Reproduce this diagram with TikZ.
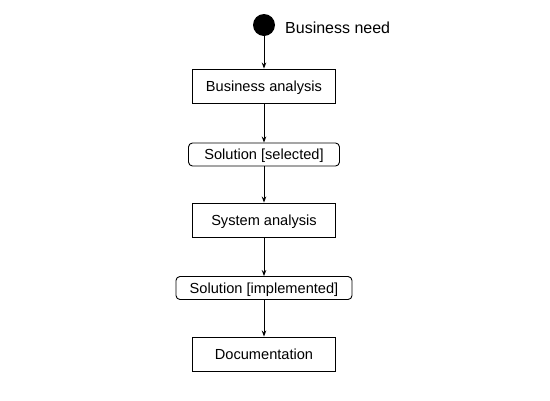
\documentclass[tikz,border=0pt]{standalone}
\usepackage{fontspec}
\setmainfont{Liberation Sans}
\usetikzlibrary{arrows.meta}
\begin{document}
\begin{tikzpicture}[x=1pt,y=-1pt,
  txt/.style={font=\fontsize{14.6}{17}\selectfont,text height=10.5pt,text depth=0pt},
  act/.style={txt,draw,line width=0.9pt,minimum width=143pt,minimum height=34pt,inner sep=0pt},
  obj/.style={txt,draw,line width=0.9pt,rounded corners=4pt,minimum height=23pt,inner sep=0pt},
  flow/.style={line width=0.9pt,-{Stealth[length=6pt,width=4.5pt]}}]
\useasboundingbox (0,0) rectangle (550,400);
\node[circle,fill=black,minimum size=22pt,inner sep=0pt] (start) at (264,25) {};
\node[anchor=west,font=\fontsize{16}{19}\selectfont,text height=11.5pt,text depth=0pt,inner sep=0pt] (lbl) at (285,28) {Business need};
\node[act] (ba) at (264,86) {Business analysis};
\node[obj,minimum width=151pt] (ss) at (264,154.5) {Solution [selected]};
\node[act] (sa) at (264,220) {System analysis};
\node[obj,minimum width=176pt] (si) at (264,288) {Solution [implemented]};
\node[act] (doc) at (264,354) {Documentation};
\draw[flow] (start) -- (ba);
\draw[flow] (ba) -- (ss);
\draw[flow] (ss) -- (sa);
\draw[flow] (sa) -- (si);
\draw[flow] (si) -- (doc);
\end{tikzpicture}
\end{document}
